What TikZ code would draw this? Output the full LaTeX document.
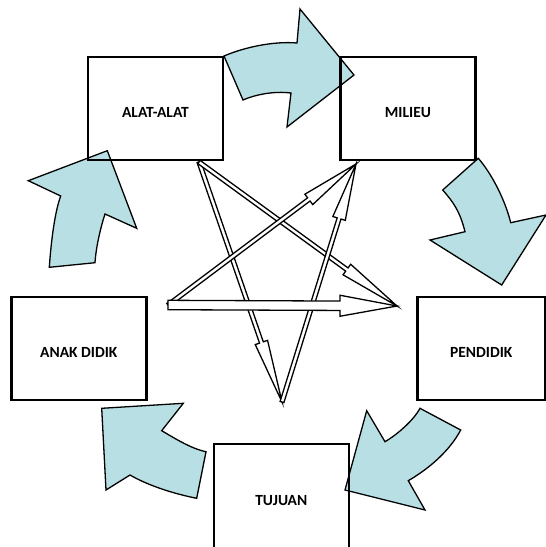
\documentclass[tikz,border=0pt]{standalone}
\usepackage{fontspec}
\setmainfont{Carlito}
\usepackage{tikz}
\usetikzlibrary{positioning, calc}

\definecolor{aqua}{RGB}{184,223,227}

% block arrow with a long head: start, tip, shaft half width, head half width, head length
\newcommand{\blockarrow}[5]{%
  \coordinate (hb) at ($(#2)!#5!(#1)$);
  \draw[spoke] ($(#1)!#3!90:(#2)$) -- ($(hb)!#3!90:(#2)$) -- ($(hb)!#4!90:(#2)$)
    -- (#2) -- ($(hb)!#4!-90:(#2)$) -- ($(hb)!#3!-90:(#2)$) -- ($(#1)!#3!-90:(#2)$) -- cycle;
}

\begin{document}
\begin{tikzpicture}[x=1pt, y=-1pt,
  box/.style={rectangle, draw, line width=2.4pt, minimum width=135pt, minimum height=103pt, inner sep=0pt, font=\fontsize{15.5}{18}\selectfont\bfseries, text height=18pt, text depth=0pt},
  turn/.style={draw, fill=aqua, line width=1.3pt, line join=miter},
  spoke/.style={draw, fill=white, line width=1.3pt, line join=miter}
]
  \useasboundingbox (0,0) rectangle (546,547);

  \path[turn] (224,56) .. controls (245,47) and (274,41) .. (297,43) -- (300,9) -- (354,75) -- (287,127) -- (291,93) .. controls (275,91) and (257,94) .. (243,100) -- cycle;
  \path[turn] (478.3,158.3) .. controls (492,174) and (505.4,200.7) .. (510.7,222.7) -- (546,215) -- (501.7,285) -- (430,240) -- (465,231.7) .. controls (460,211.7) and (453.7,202.5) .. (442.7,190) -- cycle;
  \path[turn] (460.7,430) .. controls (449.4,451.2) and (429,468.6) .. (408.3,480.7) -- (425,510) -- (345,490) -- (366.7,410.7) -- (385,441.7) .. controls (397,434.7) and (413.4,420.6) .. (420,408.3) -- cycle;
  \path[turn] (196.7,498.3) .. controls (174.7,493.9) and (149,486) .. (130,475) -- (106,490) -- (101.7,408.3) -- (183.3,403.3) -- (161.7,430.7) .. controls (173.7,437.7) and (191,448.7) .. (206,451.7) -- cycle;
  \path[turn] (49.3,267.3) .. controls (50.5,250) and (53.7,215) .. (60.7,196) -- (28.3,180.7) -- (107.3,150.7) -- (136.7,228.3) -- (105,214) .. controls (101,226) and (96,246.7) .. (95,262.7) -- cycle;

  \coordinate (va) at (199,162);
  \coordinate (vm) at (356,164);
  \coordinate (vp) at (397,306);
  \coordinate (vt) at (282,402);
  \coordinate (vn) at (168,305);

  \blockarrow{va}{vt}{2pt}{6.5pt}{63pt}
  \blockarrow{va}{vp}{2pt}{6.5pt}{62pt}
  \blockarrow{vn}{vm}{2pt}{6.5pt}{59pt}
  \blockarrow{vt}{vm}{2pt}{6.5pt}{57pt}
  \blockarrow{vn}{vp}{4.7pt}{10.5pt}{57pt}

  \node[box] (alat) at (155.5,108.7) {ALAT-ALAT};
  \node[box, right=115pt of alat] (milieu) {MILIEU};
  \node[box] (anak) at (78.8,348.3) {ANAK DIDIK};
  \node[box, minimum width=128pt, right=268.6pt of anak] (pendidik) {PENDIDIK};
  \node[box, minimum height=104pt] (tujuan) at (281.3,496) {TUJUAN};
\end{tikzpicture}
\end{document}
